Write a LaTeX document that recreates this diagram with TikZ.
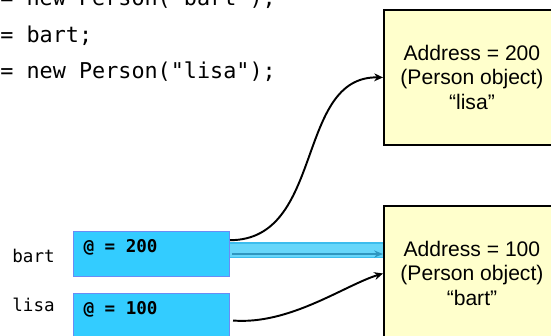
\documentclass[tikz,border=0pt]{standalone}
\usepackage{fontspec}
\setmainfont{Liberation Sans}
\setmonofont{DejaVu Sans Mono}
\usetikzlibrary{arrows.meta,calc}
\definecolor{refcyan}{HTML}{33CCFF}
\definecolor{refedge}{HTML}{6A8CF5}
\definecolor{objyellow}{HTML}{FFFFCC}
\definecolor{bandfill}{HTML}{66D6FA}
\definecolor{bandedge}{HTML}{3CBDEE}
\definecolor{bandarrow}{HTML}{2E96C0}
\newcommand{\reftext}[1]{\makebox[2.72cm][l]{#1}}
\tikzset{
  codeline/.style={anchor=base west, inner sep=0pt, font=\ttfamily\fontsize{12.4}{15}\selectfont},
  varlabel/.style={anchor=base west, inner sep=0pt, font=\ttfamily\fontsize{10}{12}\selectfont},
  refbox/.style={rectangle, draw=refedge, fill=refcyan, line width=0.6pt, anchor=north west,
    minimum width=3.12cm, minimum height=0.9cm, inner xsep=0.2cm, inner ysep=0pt,
    text height=0.2cm, text depth=0.26cm, font=\ttfamily\bfseries\fontsize{10}{12}\selectfont},
  objbox/.style={rectangle, draw=black, fill=objyellow, line width=1.1pt, anchor=north west,
    minimum width=3.52cm, minimum height=2.7cm, align=center, font=\fontsize{12}{14.2}\selectfont},
  pointer/.style={-{Stealth[length=5pt,width=4.5pt]}, line width=1.1pt},
  bandline/.style={draw=bandedge, line width=0.6pt, double=bandfill, double distance=0.26cm}
}
\begin{document}
\begin{tikzpicture}[x=0.02cm, y=-0.02cm]
  \useasboundingbox (0,0) rectangle (551,335);
  \clip (0,0) rectangle (551,335);

  % Code
  \node[codeline] (codeA) at (0,5.5) {= new Person("bart");};
  \node[codeline] (codeB) at (0,42.5) {= bart;};
  \node[codeline] (codeC) at (0,78.5) {= new Person("lisa");};

  % Variables
  \node[varlabel] (bartLbl) at (12,262) {bart};
  \node[varlabel] (lisaLbl) at (12,311) {lisa};
  \node[refbox] (bartRef) at (73,231) {\reftext{@ = 200}};
  \node[refbox] (lisaRef) at (73,293) {\reftext{@ = 100}};

  % Objects
  \node[objbox] (objLisa) at (383,9) {Address = 200\\(Person object)\\“lisa”};
  \node[objbox] (objBart) at (383,205) {Address = 100\\(Person object)\\“bart”};

  % Old reference of bart
  \coordinate (bandStart) at ($(bartRef.east)+(0,-4)$);
  \draw[bandline] (bandStart) -- (bandStart -| objBart.west);
  \draw[-{Stealth[length=5pt,width=4pt]}, bandarrow, line width=0.9pt]
    ($(bartRef.east)+(2,0)$) -- (bartRef.east -| objBart.west);

  % New references
  \draw[pointer] (bartRef.10) .. controls (325,240) and (295,76) .. (objLisa.west);
  \draw[pointer] ($(lisaRef.east)+(3,4.5)$) .. controls (290,325) and (345,285) .. (objBart.west);
\end{tikzpicture}
\end{document}
